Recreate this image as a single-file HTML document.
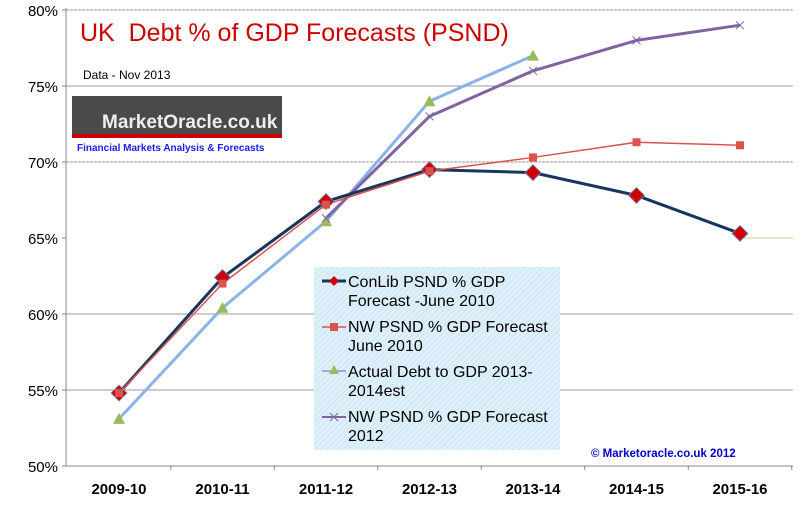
<!DOCTYPE html>
<html><head><meta charset="utf-8"><style>
body{margin:0;background:#fff;font-family:"Liberation Sans",sans-serif}
svg text{font-family:"Liberation Sans",sans-serif}
</style></head><body>
<svg width="800" height="516" viewBox="0 0 800 516">
<defs>
<pattern id="hatch" width="4" height="4" patternUnits="userSpaceOnUse" patternTransform="rotate(45)">
<rect width="4" height="4" fill="#dff0fa"/><line x1="0" y1="0" x2="0" y2="4" stroke="#c4e2f3" stroke-width="1.5"/></pattern>
</defs>
<g id="grid"></g>
<line x1="66" y1="8" x2="66" y2="466" stroke="#888"/>
<line x1="66" y1="466" x2="793" y2="466" stroke="#888"/>
<g id="yt"></g>
<g id="xt"></g>
<text x="80" y="41" font-size="25" fill="#cc0000" style="white-space:pre">UK  Debt % of GDP Forecasts (PSND)</text>
<text x="83" y="79" font-size="12" fill="#000">Data - Nov 2013</text>
<g>
<rect x="72" y="96" width="210" height="40" fill="#4a4a4a"/>
<rect x="72" y="134" width="210" height="4" fill="#cc0000"/>
<text x="102" y="128" font-size="19" font-weight="bold" fill="#eee">MarketOracle.co.uk</text>
<text x="77" y="151" font-size="10" font-weight="bold" fill="#1a1aff">Financial Markets Analysis &amp; Forecasts</text>
</g>
<g id="series"></g>
<g>
<rect x="314" y="267" width="246" height="183" fill="url(#hatch)"/>
<g font-size="16" fill="#000">
<line x1="322" y1="281" x2="346" y2="281" stroke="#17365d" stroke-width="3"/><path d="M334 276 L339 281 L334 286 L329 281Z" fill="#cc0000"/>
<text x="348" y="287">ConLib PSND % GDP</text><text x="348" y="306">Forecast -June 2010</text>
<line x1="322" y1="327" x2="346" y2="327" stroke="#d9534f" stroke-width="1.5"/><rect x="330" y="323" width="8" height="8" fill="#d9534f"/>
<text x="348" y="332">NW PSND % GDP Forecast</text><text x="348" y="351">June 2010</text>
<line x1="322" y1="371" x2="346" y2="371" stroke="#8ab4e8" stroke-width="2"/><path d="M334 365 L339 374 L329 374Z" fill="#9bbb59"/>
<text x="348" y="377">Actual Debt to GDP 2013-</text><text x="348" y="396">2014est</text>
<line x1="322" y1="417" x2="346" y2="417" stroke="#8064a2" stroke-width="2"/><path d="M330 413 L338 421 M338 413 L330 421" stroke="#8064a2"/>
<text x="348" y="422">NW PSND % GDP Forecast</text><text x="348" y="441">2012</text>
</g></g>
<text x="591" y="457" font-size="11.5" font-weight="bold" fill="#0000cc">© Marketoracle.co.uk  2012</text>
<script>
const categories=["2009-10","2010-11","2011-12","2012-13","2013-14","2014-15","2015-16"];
const yTicks=[50,55,60,65,70,75,80];
const conlib=[54.8,62.4,67.4,69.5,69.3,67.8,65.3];
const nw2010=[54.8,62.0,67.2,69.4,70.3,71.3,71.1];
const actual=[53.1,60.4,66.1,74.0,77.0,null,null];
const nw2012=[null,null,66.3,73.0,76.0,78.0,79.0];
const NS="http://www.w3.org/2000/svg";
const X=i=>119+i*103.5, Y=v=>466-(v-50)*15.2;
function mk(t,a,p){const e=document.createElementNS(NS,t);for(const k in a)e.setAttribute(k,a[k]);(p||document.getElementById('series')).appendChild(e);return e;}
const grid=document.getElementById('grid');
yTicks.forEach(v=>{if(v===50)return;
const l=mk('line',{x1:v===65?740:66,x2:793,y1:Y(v),y2:Y(v),stroke:v===65?'#cccc99':'#999','stroke-dasharray':(v===80||v===70)?'3,1':'none'},grid);

});
const yt=document.getElementById('yt');
yTicks.forEach(v=>{const t=mk('text',{x:58,y:Y(v)+6,'text-anchor':'end','font-size':15},yt);t.textContent=v+'%';


mk('line',{x1:62,x2:66,y1:Y(v),y2:Y(v),stroke:'#888'},yt);});
const xt=document.getElementById('xt');
categories.forEach((c,i)=>{const t=mk('text',{x:X(i),y:494,'text-anchor':'middle','font-size':15,'font-weight':'bold'},xt);t.textContent=c;


mk('line',{x1:X(i)+51.75,x2:X(i)+51.75,y1:466,y2:470,stroke:'#888'},xt);});
function line(d,col,w,name){const pts=[];d.forEach((v,i)=>{if(v!=null)pts.push(X(i)+','+Y(v));});
const p=mk('polyline',{points:pts.join(' '),fill:'none',stroke:col,'stroke-width':w,'stroke-linejoin':'round'});

}
line(actual,'#8ab4e8',3,'actual-line');
line(nw2012,'#8064a2',3,'nw-2012-line');
line(conlib,'#17365d',3,'conlib-line');
line(nw2010,'#d9534f',1.5,'nw-2010-line');
conlib.forEach((v,i)=>{const x=X(i),y=Y(v);const m=mk('path',{d:`M${x} ${y-8}L${x+8} ${y}L${x} ${y+8}L${x-8} ${y}Z`,fill:'#cc0000',stroke:'#6f8fc0','stroke-width':0.8});

});
nw2010.forEach((v,i)=>{const m=mk('rect',{x:X(i)-4,y:Y(v)-4,width:8,height:8,fill:'#d9534f'});

});
actual.forEach((v,i)=>{if(v==null)return;const x=X(i),y=Y(v);const m=mk('path',{d:`M${x} ${y-6}L${x+6} ${y+5}L${x-6} ${y+5}Z`,fill:'#9bbb59'});

});
nw2012.forEach((v,i)=>{if(v==null)return;const x=X(i),y=Y(v);const m=mk('path',{d:`M${x-4} ${y-4}L${x+4} ${y+4}M${x+4} ${y-4}L${x-4} ${y+4}`,stroke:'#8064a2','stroke-width':1});

});
</script>
</svg>
</body></html>
